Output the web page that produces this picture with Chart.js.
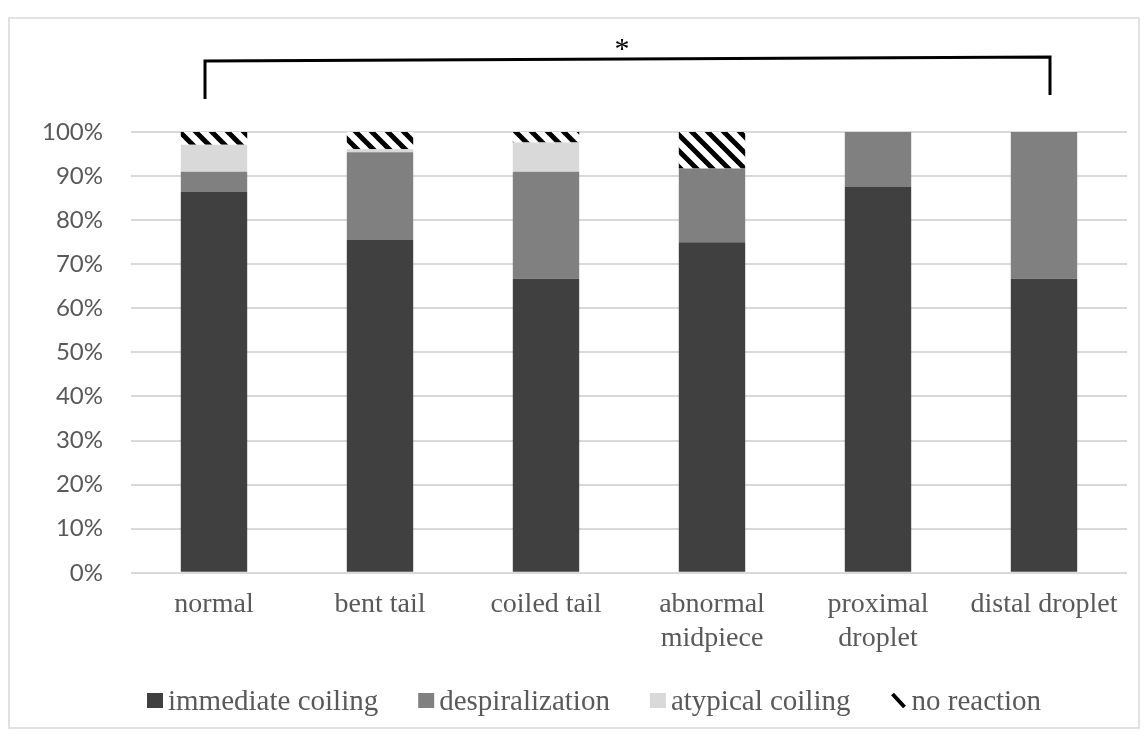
<!DOCTYPE html>
<html>
<head>
<meta charset="utf-8">
<script src="https://cdn.jsdelivr.net/npm/chart.js@4.4.1/dist/chart.umd.min.js"></script>
<style>
    html, body { margin: 0; padding: 0; background: #fff; }
    #wrap { width: 1147px; height: 736px; position: relative; }
</style>
</head>
<body>
<div id="wrap"><canvas id="chart" width="1147" height="736"></canvas></div>
<script>
    "use strict";

    // data (percent of cells per morphology)
    var categories = ['normal', 'bent tail', 'coiled tail', ['abnormal', 'midpiece'], ['proximal', 'droplet'], 'distal droplet'];
    var immediateCoiling = [86.5, 75.5, 66.7, 75.0, 87.5, 66.7];
    var despiralization = [4.5, 19.9, 24.3, 16.7, 12.5, 33.3];
    var atypicalCoiling = [6.1, 0.7, 6.6, 0, 0, 0];
    var noReaction = [2.9, 3.9, 2.4, 8.3, 0, 0];
    var yTicks = [0, 10, 20, 30, 40, 50, 60, 70, 80, 90, 100];

    var SERIF = '"Liberation Serif", "Times New Roman", serif';

    // black '\' stripes on white
    function makeHatch() {
        var s = 16;
        var c = document.createElement('canvas');
        c.width = s;
        c.height = s;
        var g = c.getContext('2d');
        g.fillStyle = '#fff';
        g.fillRect(0, 0, s, s);
        g.strokeStyle = '#000';
        g.lineWidth = 5;
        for (var k = -1; k <= 1; k++) {
            g.beginPath();
            g.moveTo(-2, -2 + k * s);
            g.lineTo(s + 2, s + 2 + k * s);
            g.stroke();
        }
        return document.getElementById('chart').getContext('2d').createPattern(c, 'repeat');
    }
    var hatch = makeHatch();

    // outer frame + significance bracket
    var decorations = {
        id: 'decorations',
        beforeDraw: function (chart) {
            var ctx = chart.ctx;
            ctx.save();
            ctx.strokeStyle = '#d9d9d9';
            ctx.lineWidth = 1.5;
            ctx.strokeRect(9, 18, 1130, 710);
            ctx.restore();
        },
        afterDraw: function (chart) {
            var ctx = chart.ctx;
            var x = chart.scales.x;
            var x0 = x.getPixelForValue(0) - 9;
            var x1 = x.getPixelForValue(categories.length - 1) + 6;
            ctx.save();
            ctx.strokeStyle = '#000';
            ctx.lineWidth = 3;
            ctx.beginPath();
            ctx.moveTo(x0, 99);
            ctx.lineTo(x0, 61);
            ctx.lineTo(x1, 57);
            ctx.lineTo(x1, 95);
            ctx.stroke();
            ctx.fillStyle = '#000';
            ctx.font = '30px ' + SERIF;
            ctx.textAlign = 'center';
            ctx.textBaseline = 'middle';
            ctx.fillText('*', 622, 50);
            ctx.restore();
        }
    };

    // legend drawn like the office one: small square, text, wide gaps
    var officeLegend = {
        id: 'officeLegend',
        afterDraw: function (chart) {
            var ctx = chart.ctx;
            ctx.save();
            ctx.font = '29px ' + SERIF;
            ctx.textBaseline = 'alphabetic';
            var xPos = 147;
            chart.data.datasets.forEach(function (ds) {
                if (ds.legendHatch) {
                    ctx.strokeStyle = '#000';
                    ctx.lineWidth = 4;
                    ctx.beginPath();
                    ctx.moveTo(xPos + 2, 694);
                    ctx.lineTo(xPos + 14, 707);
                    ctx.stroke();
                } else {
                    ctx.fillStyle = ds.backgroundColor;
                    ctx.fillRect(xPos, 693, 16, 15);
                }
                ctx.fillStyle = '#595959';
                ctx.fillText(ds.label, xPos + 21, 710);
                xPos += 21 + ctx.measureText(ds.label).width + 40;
            });
            ctx.restore();
        }
    };

    var ctx = document.getElementById('chart');
    new Chart(ctx, {
        type: 'bar',
        data: {
            labels: categories,
            datasets: [
                { label: 'immediate coiling', data: immediateCoiling, backgroundColor: '#404040' },
                { label: 'despiralization', data: despiralization, backgroundColor: '#808080' },
                { label: 'atypical coiling', data: atypicalCoiling, backgroundColor: '#d9d9d9' },
                { label: 'no reaction', data: noReaction, backgroundColor: hatch, legendHatch: true }
            ]
        },
        options: {
            responsive: false,
            animation: false,
            datasets: {
                bar: { barPercentage: 0.4, categoryPercentage: 1.0, borderWidth: 0 }
            },
            layout: { padding: { top: 132, right: 20, bottom: 66, left: 0 } },
            plugins: {
                legend: { display: false },
                tooltip: { enabled: false }
            },
            scales: {
                x: {
                    stacked: true,
                    grid: { display: false, drawTicks: false },
                    border: { display: false },
                    ticks: {
                        padding: 15,
                        color: '#595959',
                        font: { family: SERIF, size: 28 },
                        maxRotation: 0,
                        autoSkip: false
                    }
                },
                y: {
                    stacked: true,
                    min: 0,
                    max: 100,
                    afterFit: function (scale) { scale.width = 131; },
                    afterBuildTicks: function (scale) {
                        scale.ticks = yTicks.map(function (v) { return { value: v }; });
                    },
                    grid: { color: '#d9d9d9', lineWidth: 2, drawTicks: false },
                    border: { display: false },
                    ticks: {
                        padding: 28,
                        color: '#595959',
                        font: { family: 'Lato', size: 24 },
                        callback: function (v) { return v + '%'; }
                    }
                }
            }
        },
        plugins: [decorations, officeLegend]
    });
</script>
</body>
</html>
